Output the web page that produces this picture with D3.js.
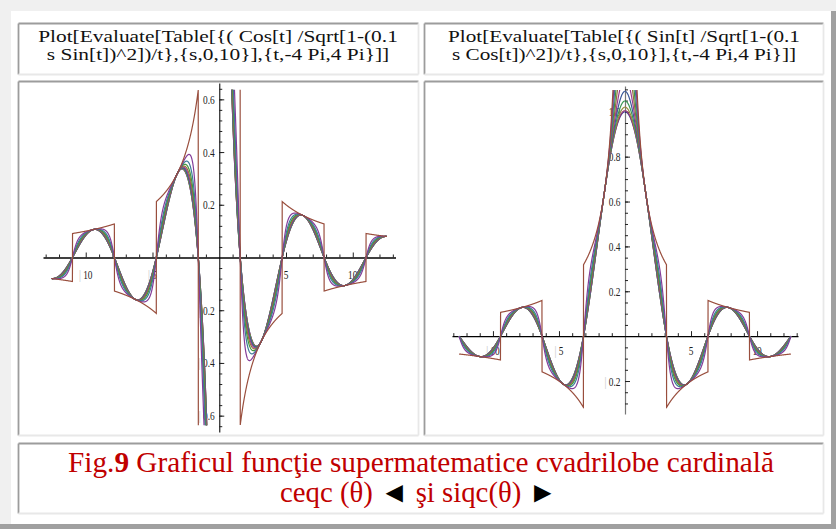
<!DOCTYPE html>
<html>
<head>
<meta charset="utf-8">
<script src="https://cdn.jsdelivr.net/npm/d3@7"></script>
<style>
  body { margin: 0; background: #f0f0f0; }
  svg { display: block; }
</style>
</head>
<body>
<div id="fig"></div>
<script>
// parameter s of the family, as in Table[..., {s,0,10}]
var sValues = [0, 1, 2, 3, 4, 5, 6, 7, 8, 9, 10];
// t runs over {t,-4 Pi,4 Pi}
var tRange = [-4 * Math.PI, 4 * Math.PI];

// tick labels
var xMajorTicks = [-10, -5, 5, 10];
var leftYTicks = [-0.6, -0.4, -0.2, 0.2, 0.4, 0.6];
var rightYTicks = [-0.2, 0.2, 0.4, 0.6, 0.8, 1.0];

// cell texts
var headerLeft = ["Plot[Evaluate[Table[{( Cos[t] /Sqrt[1-(0.1", "s Sin[t])^2])/t},{s,0,10}],{t,-4 Pi,4 Pi}]]"];
var headerRight = ["Plot[Evaluate[Table[{( Sin[t] /Sqrt[1-(0.1", "s Cos[t])^2])/t},{s,0,10}],{t,-4 Pi,4 Pi}]]"];

// old Mathematica default plot colours, one per s
var palette = ["#3f3d99", "#993d71", "#998b3d", "#3d9956", "#3d5a99", "#993d90",
               "#996d3d", "#43993d", "#3d7999", "#843d99", "#994e3d"];

// the two functions printed in the headers
function ceqc(t, s) { return Math.cos(t) / Math.sqrt(1 - Math.pow(0.1 * s * Math.sin(t), 2)) / t; }
function siqc(t, s) { return Math.sin(t) / Math.sqrt(1 - Math.pow(0.1 * s * Math.cos(t), 2)) / t; }

var W = 836, H = 529;
var svg = d3.select("#fig").append("svg").attr("width", W).attr("height", H)
  .attr("font-family", "'Liberation Serif', 'Times New Roman', serif");

// page / table frame
svg.append("rect").attr("x", 0).attr("y", 0).attr("width", W).attr("height", H).attr("fill", "#f0f0f0");
svg.append("rect").attr("x", 11).attr("y", 11).attr("width", 820).attr("height", 513).attr("fill", "#fff");
svg.append("rect").attr("x", 831).attr("y", 11).attr("width", 5).attr("height", 518).attr("fill", "#a0a0a0");
svg.append("rect").attr("x", 0).attr("y", 524).attr("width", W).attr("height", 5).attr("fill", "#a0a0a0");

function cell(x0, y0, x1, y1) {
  var g = svg.append("g");
  g.append("rect").attr("x", x0).attr("y", y0).attr("width", x1 - x0).attr("height", y1 - y0).attr("fill", "#fff");
  g.append("line").attr("x1", x0).attr("x2", x1).attr("y1", y0).attr("y2", y0).attr("stroke", "#9c9c9c").attr("stroke-width", 1.8);
  g.append("line").attr("x1", x0).attr("x2", x0).attr("y1", y0).attr("y2", y1).attr("stroke", "#9c9c9c").attr("stroke-width", 1.8);
  g.append("line").attr("x1", x0).attr("x2", x1).attr("y1", y1).attr("y2", y1).attr("stroke", "#e8e8e8").attr("stroke-width", 1.8);
  g.append("line").attr("x1", x1).attr("x2", x1).attr("y1", y0).attr("y2", y1).attr("stroke", "#e8e8e8").attr("stroke-width", 1.8);
  return g;
}

cell(18.5, 23.5, 418.5, 74.5);
cell(424.5, 23.5, 823.5, 74.5);
cell(18.5, 81.5, 418.5, 435.5);
cell(424.5, 81.5, 823.5, 435.5);
cell(18.5, 443.5, 823.5, 513.5);

// header texts: one text, two lines, stretched sideways to the reference width
function header(lines, cx, targetWidth) {
  var g = svg.append("g");
  var t = g.append("text").attr("text-anchor", "middle").attr("font-size", 17.5).attr("fill", "#111");
  lines.forEach(function(l, i) {
    t.append("tspan").attr("x", 0).attr("y", 42.5 + i * 17.5).text(l);
  });
  var w = d3.max(t.selectAll("tspan").nodes(), function(n) { return n.getComputedTextLength(); });
  g.attr("transform", "translate(" + cx + ",0) scale(" + (targetWidth / w) + ",1)");
}
header(headerLeft, 218, 360);
header(headerRight, 624, 352);

// caption
var l1 = svg.append("text").attr("text-anchor", "middle").attr("font-size", 29).attr("fill", "#c00000")
  .attr("x", 421).attr("y", 471.5).attr("textLength", 706).attr("lengthAdjust", "spacingAndGlyphs");
l1.append("tspan").text("Fig.");
l1.append("tspan").attr("font-weight", "bold").text("9");
l1.append("tspan").text(" Graficul funcţie supermatematice cvadrilobe cardinală");
var l2 = svg.append("text").attr("text-anchor", "middle").attr("font-size", 29).attr("fill", "#c00000")
  .attr("x", 418.5).attr("y", 501.5).attr("textLength", 277).attr("lengthAdjust", "spacingAndGlyphs");
l2.append("tspan").text("ceqc (θ) ");
l2.append("tspan").attr("fill", "#000").text("◄");
l2.append("tspan").text(" şi siqc(θ) ");
l2.append("tspan").attr("fill", "#000").text("►");

// one Mathematica-like plot
function plot(id, f, x, y, clipTop, clipBot, yTicks, yMinorStep, xLabelDy, yAxisColor) {
  var g = svg.append("g");
  var x0 = x(0), y0 = y(0);

  g.append("clipPath").attr("id", id).append("rect")
    .attr("x", x(tRange[0]) - 1).attr("y", y(clipTop))
    .attr("width", x(tRange[1]) - x(tRange[0]) + 2).attr("height", y(clipBot) - y(clipTop));

  // y axis: ticks to the right
  var yd = y.domain();
  var yMinor = d3.range(Math.ceil(yd[0] / yMinorStep), Math.floor(yd[1] / yMinorStep) + 1)
    .map(function(k) { return k * yMinorStep; })
    .filter(function(v) { return Math.abs(v) > 1e-9; });
  g.append("g").attr("transform", "translate(" + x0 + ",0)")
    .call(d3.axisRight(y).tickValues(yMinor).tickSize(3).tickSizeOuter(0).tickFormat(""))
    .call(function(a) { a.select(".domain").attr("stroke", yAxisColor).attr("stroke-width", 1.2); });
  g.append("g").attr("transform", "translate(" + x0 + ",0)")
    .call(d3.axisRight(y).tickValues(yTicks).tickSize(5).tickSizeOuter(0).tickFormat(""))
    .call(function(a) { a.select(".domain").remove(); });

  // x axis: minor ticks every 1, major every 5, drawn upward
  var minor = d3.range(-13, 14).filter(function(v) { return v !== 0 && v % 5 !== 0; });
  g.append("g").attr("transform", "translate(0," + y0 + ")")
    .call(d3.axisBottom(x).tickValues(minor).tickSize(-3).tickSizeOuter(0).tickFormat(""))
    .call(function(a) { a.select(".domain").attr("stroke", "#000").attr("stroke-width", 1.4); });
  g.append("g").attr("transform", "translate(0," + y0 + ")")
    .call(d3.axisBottom(x).tickValues(xMajorTicks).tickSize(-5).tickSizeOuter(0).tickFormat(""))
    .call(function(a) { a.select(".domain").remove(); });
  g.selectAll(".tick line").attr("stroke", "#222");

  // tick labels, narrow like the scaled screenshot
  function label(px, py, v, anchor, digits) {
    var t = g.append("text").attr("font-size", 13).attr("text-anchor", anchor)
      .attr("transform", "translate(" + px + "," + py + ") scale(0.72,1)");
    if (v < 0) t.append("tspan").attr("fill", "#bbb").text("| ");
    t.append("tspan").attr("fill", "#222").text(d3.format("." + digits + "f")(Math.abs(v)));
  }
  xMajorTicks.forEach(function(v) { label(x(v), y0 + xLabelDy, v, "middle", 0); });
  yTicks.forEach(function(v) { label(x0 - 4.5, y(v) + 4.5, v, "end", 1); });

  // curves, one per s
  var n = 3001, dt = (tRange[1] - tRange[0]) / n;
  var ts = d3.range(n).map(function(i) { return tRange[0] + (i + 0.5) * dt; });
  var line = d3.line()
    .defined(function(d) { return isFinite(d[1]) && Math.abs(d[1]) < 3; })
    .x(function(d) { return x(d[0]); })
    .y(function(d) { return y(d[1]); });
  var curves = g.append("g").attr("clip-path", "url(#" + id + ")");
  sValues.forEach(function(s, i) {
    var pts = ts.map(function(t) { return [t, f(t, s)]; });
    curves.append("path").attr("d", line(pts)).attr("fill", "none")
      .attr("stroke", palette[i]).attr("stroke-width", 1.2);
  });
}

var xL = d3.scaleLinear().domain([-13.2, 13.2]).range([43, 395.5]);
var yL = d3.scaleLinear().domain([-0.662, 0.662]).range([432, 83]);
plot("clipL", ceqc, xL, yL, 0.6366, -0.6366, leftYTicks, 0.04, 21, "#222");

var xR = d3.scaleLinear().domain([-13.1, 13.1]).range([452, 798]);
var yR = d3.scaleLinear().domain([-0.347, 1.115]).range([414, 86]);
plot("clipR", siqc, xR, yR, 1.097, -0.322, rightYTicks, 0.05, 19, "#777");
</script>
</body>
</html>
